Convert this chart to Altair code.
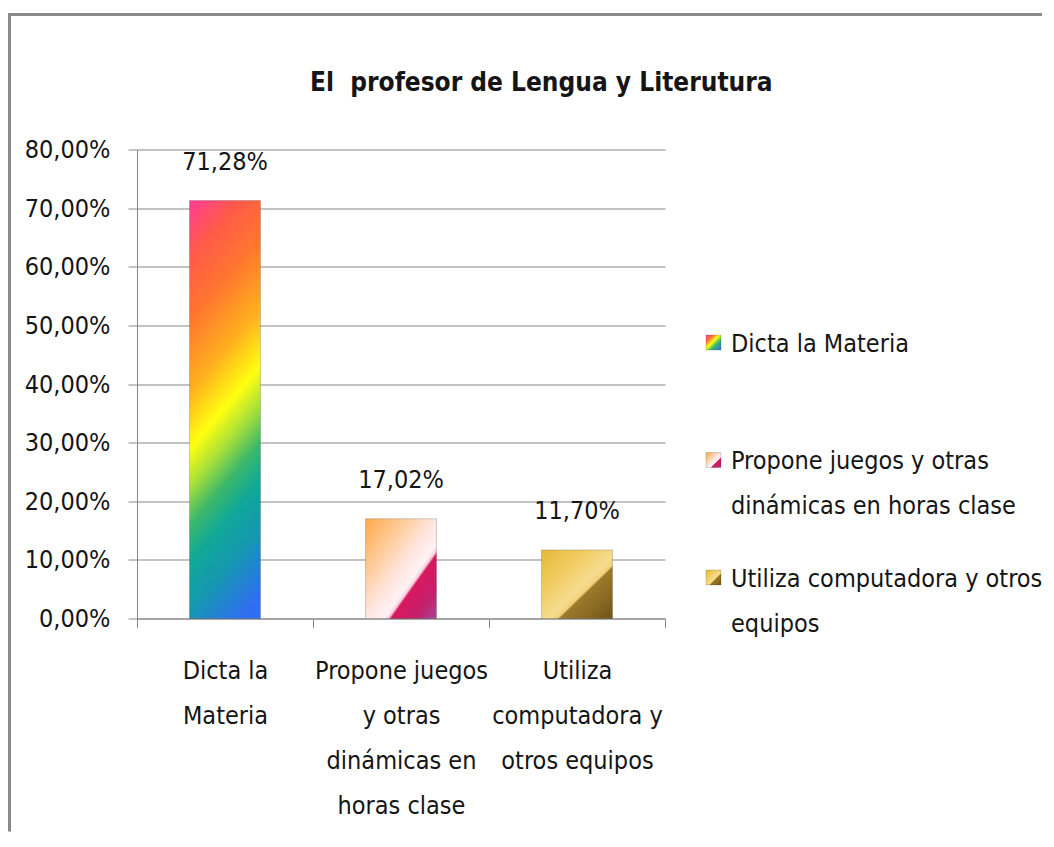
import json
import altair as alt
import pandas as pd

# ---- data ----
categories = [
    "Dicta la Materia",
    "Propone juegos y otras dinámicas en horas clase",
    "Utiliza computadora y otros equipos",
]
values = [71.28, 17.02, 11.70]
axis_lines = [
    ["Dicta la", "Materia"],
    ["Propone juegos", "y otras", "dinámicas en", "horas clase"],
    ["Utiliza", "computadora y", "otros equipos"],
]
legend_lines = [
    ["Dicta la Materia"],
    ["Propone juegos y otras", "dinámicas en horas clase"],
    ["Utiliza computadora y otros", "equipos"],
]
y_ticks = [0, 10, 20, 30, 40, 50, 60, 70, 80]
title_text = "El\u00a0 profesor de Lengua y Literutura"

# ---- styles ----
FONT = "DejaVu Sans Condensed, Liberation Sans, sans-serif"
FS = 25
GRAY = "#888888"
TEXT = "#151515"

gradients = [
    {"gradient": "linear", "x1": 0, "y1": 0, "x2": 0.22, "y2": 1.1,
     "stops": [
         {"offset": 0.00, "color": "#ff3d96"},
         {"offset": 0.12, "color": "#ff5a4a"},
         {"offset": 0.25, "color": "#ff7530"},
         {"offset": 0.40, "color": "#ffb01e"},
         {"offset": 0.52, "color": "#ffff10"},
         {"offset": 0.60, "color": "#a8e03a"},
         {"offset": 0.68, "color": "#3cb86a"},
         {"offset": 0.76, "color": "#10a898"},
         {"offset": 0.86, "color": "#1598b0"},
         {"offset": 1.00, "color": "#2f6ef0"},
     ]},
    {"gradient": "linear", "x1": 0, "y1": 0, "x2": 1, "y2": 1,
     "stops": [
         {"offset": 0.00, "color": "#ffa848"},
         {"offset": 0.25, "color": "#ffc890"},
         {"offset": 0.50, "color": "#ffe6e0"},
         {"offset": 0.63, "color": "#fff2f4"},
         {"offset": 0.66, "color": "#f6cfdc"},
         {"offset": 0.68, "color": "#d81860"},
         {"offset": 0.85, "color": "#c4206a"},
         {"offset": 1.00, "color": "#a04898"},
     ]},
    {"gradient": "linear", "x1": 0, "y1": 0, "x2": 1, "y2": 1,
     "stops": [
         {"offset": 0.00, "color": "#e6b838"},
         {"offset": 0.30, "color": "#f0cc60"},
         {"offset": 0.55, "color": "#f6dc90"},
         {"offset": 0.61, "color": "#f0d078"},
         {"offset": 0.63, "color": "#9c7a2a"},
         {"offset": 0.80, "color": "#8a6a22"},
         {"offset": 1.00, "color": "#6e5418"},
     ]},
]
legend_gradients = [
    {"gradient": "linear", "x1": 0, "y1": 0, "x2": 1, "y2": 1,
     "stops": [
         {"offset": 0.00, "color": "#ff3d96"},
         {"offset": 0.25, "color": "#ff7530"},
         {"offset": 0.45, "color": "#ffff10"},
         {"offset": 0.65, "color": "#3cb86a"},
         {"offset": 1.00, "color": "#2f6ef0"},
     ]},
    gradients[1],
    gradients[2],
]

df = pd.DataFrame({
    "cat": categories,
    "value": values,
    "legend": ["\n".join(l) for l in legend_lines],
})

x_label_expr = (
    json.dumps(axis_lines, ensure_ascii=False)
    + "[indexof(" + json.dumps(categories, ensure_ascii=False) + ", datum.label)]"
)
y_label_expr = "replace(format(datum.value, '.2f'), '.', ',') + '%'"

x_enc = alt.X(
    "cat:N", sort=categories,
    scale=alt.Scale(paddingInner=0, paddingOuter=0),
    axis=alt.Axis(title=None, labelAngle=0, labelExpr=x_label_expr,
                  tickBand="extent", tickSize=9, tickColor=GRAY,
                  domainColor=GRAY, labelPadding=31, labelLineHeight=45,
                  labelLimit=0, grid=False, labelFont=FONT,
                  labelFontSize=FS, labelColor=TEXT),
)
y_enc = alt.Y(
    "value:Q",
    scale=alt.Scale(domain=[0, 80], nice=False),
    axis=alt.Axis(title=None, values=y_ticks, labelExpr=y_label_expr,
                  tickSize=9, tickColor=GRAY, domainColor=GRAY,
                  gridColor=GRAY, gridWidth=1.2, labelPadding=18,
                  labelLimit=0, labelFont=FONT, labelFontSize=FS,
                  labelColor=TEXT),
)

base = alt.Chart(df)

frame_top = base.transform_filter(alt.datum.cat == categories[0]).mark_rule(
    color="#8a8a8a", strokeWidth=3
).encode(x=alt.value(-127.5), x2=alt.value(905), y=alt.value(-135))
frame_left = base.transform_filter(alt.datum.cat == categories[0]).mark_rule(
    color="#8a8a8a", strokeWidth=3
).encode(x=alt.value(-127.5), y=alt.value(-136.5), y2=alt.value(682))

bars = []
for cat, grad in zip(categories, gradients):
    bars.append(
        base.transform_filter(alt.datum.cat == cat)
        .mark_bar(fill=grad, stroke="#000000", strokeOpacity=0.18, strokeWidth=1,
                  width=alt.RelativeBandSize(0.403))
        .encode(x=x_enc, y=y_enc)
    )

labels = base.transform_calculate(
    lbl="replace(format(datum.value, '.2f'), '.', ',') + '%'"
).mark_text(font=FONT, fontSize=FS, color=TEXT, baseline="middle", dy=-39).encode(
    x=alt.X("cat:N", sort=categories), y="value:Q", text="lbl:N"
)

main = alt.layer(frame_top, frame_left, *bars, labels).properties(width=528, height=469)

# legend panel
leg_y = alt.Y("cat:N", sort=categories,
              scale=alt.Scale(type="point", range=[193, 428], padding=0), axis=None)
leg_squares = []
for cat, grad in zip(categories, legend_gradients):
    leg_squares.append(
        base.transform_filter(alt.datum.cat == cat)
        .mark_square(size=225, fill=grad, stroke="#000000", strokeOpacity=0.2,
                     strokeWidth=0.8, opacity=1)
        .encode(x=alt.value(7.5), y=leg_y)
    )
leg_text = base.mark_text(font=FONT, fontSize=FS, color=TEXT, align="left",
                          baseline="top", dy=-11, lineBreak="\n",
                          lineHeight=45).encode(
    x=alt.value(25), y=leg_y, text="legend:N"
)
legend = alt.layer(*leg_squares, leg_text).properties(width=300, height=469)

chart = alt.hconcat(main, legend, spacing=41, bounds="flush").properties(
    title=alt.TitleParams(title_text, anchor="start", dx=302, offset=-105,
                          baseline="alphabetic", font=FONT, fontSize=26,
                          fontWeight="bold", color=TEXT),
    padding={"left": 0, "top": 3.5, "right": 0, "bottom": 0},
    background="white",
).configure_view(stroke=None)

chart.save("out.html", embed_options={"renderer": "svg", "actions": False})
